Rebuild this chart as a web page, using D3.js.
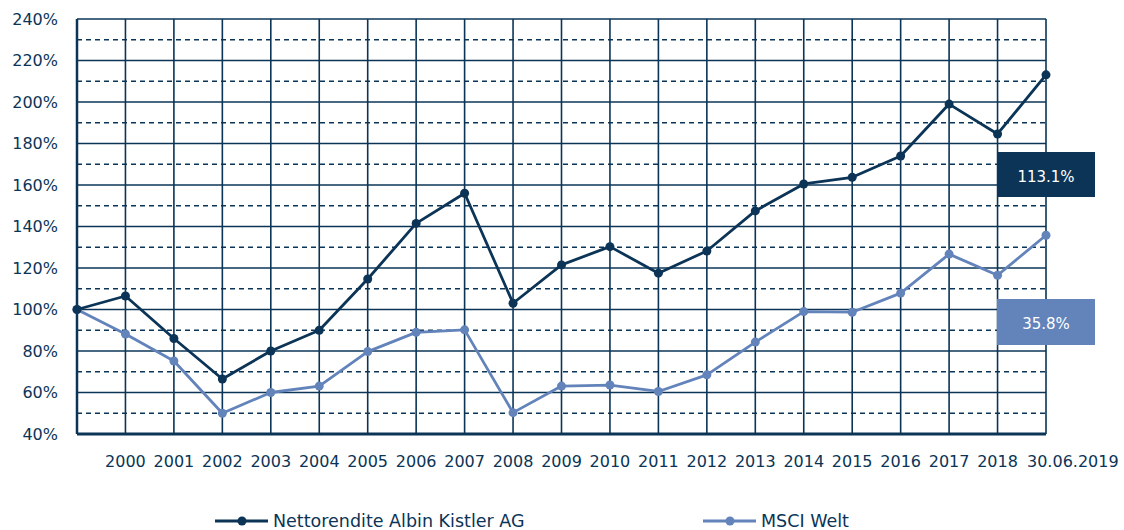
<!DOCTYPE html>
<html>
<head>
<meta charset="utf-8">
<script src="https://cdn.jsdelivr.net/npm/d3@7"></script>
<style>
  body { margin: 0; background: #fff; }
  svg { display: block; font-family: "DejaVu Sans", sans-serif; }
</style>
</head>
<body>
<svg id="chart" width="1124" height="530"></svg>
<script>
// categories along the x axis (first point is the 100% base, unlabelled)
const periods = ["", "2000", "2001", "2002", "2003", "2004", "2005", "2006", "2007", "2008", "2009",
  "2010", "2011", "2012", "2013", "2014", "2015", "2016", "2017", "2018", "30.06.2019"];

// indexed performance, percent
const kistler = [100, 106.5, 86, 66.5, 80, 90, 114.7, 141.5, 156, 103, 121.5,
  130.3, 117.5, 128.2, 147.5, 160.5, 163.7, 174, 199, 184.6, 213.1];
const msci = [100, 88.2, 75.2, 50, 60, 63.1, 79.7, 89, 90.2, 50.3, 63.1,
  63.6, 60.5, 68.5, 84.3, 99, 98.7, 107.9, 126.7, 116.5, 135.8];

const yTicks = [40, 60, 80, 100, 120, 140, 160, 180, 200, 220, 240];
const yMinor = [50, 70, 90, 110, 130, 150, 170, 190, 210, 230];

const series = [
  { name: "Nettorendite Albin Kistler AG", values: kistler, color: "#0b3456", label: "113.1%" },
  { name: "MSCI Welt", values: msci, color: "#6383bb", label: "35.8%" }
];

const navy = "#0b3456";
const svg = d3.select("#chart");
const plotL = 77, plotR = 1046, plotT = 19, plotB = 434;

const x = d3.scalePoint().domain(d3.range(periods.length)).range([plotL, plotR]);
const y = d3.scaleLinear().domain([40, 240]).range([plotB, plotT]);

const grid = svg.append("g");

// horizontal dashed lines at the odd tens
grid.selectAll("line.minor").data(yMinor).join("line")
  .attr("class", "minor")
  .attr("x1", plotL).attr("x2", plotR)
  .attr("y1", d => y(d)).attr("y2", d => y(d))
  .attr("stroke", navy).attr("stroke-width", 1.7)
  .attr("stroke-dasharray", "5,4");

// solid horizontal lines
grid.selectAll("line.major").data(yTicks).join("line")
  .attr("class", "major")
  .attr("x1", plotL).attr("x2", plotR)
  .attr("y1", d => y(d)).attr("y2", d => y(d))
  .attr("stroke", navy).attr("stroke-width", d => d === 40 ? 3 : 1.6);

// vertical lines
grid.selectAll("line.vert").data(d3.range(periods.length)).join("line")
  .attr("class", "vert")
  .attr("x1", d => x(d)).attr("x2", d => x(d))
  .attr("y1", plotT).attr("y2", plotB)
  .attr("stroke", navy).attr("stroke-width", d => d === 0 ? 2.5 : 1.6);

// y labels
svg.append("g").selectAll("text").data(yTicks).join("text")
  .attr("x", 58).attr("y", d => y(d))
  .attr("dy", "0.35em")
  .attr("text-anchor", "end")
  .attr("fill", navy).attr("font-size", 16)
  .text(d => d + "%");

// x labels
svg.append("g").selectAll("text").data(periods).join("text")
  .attr("x", (d, i) => i === periods.length - 1 ? x(i) - 19 : x(i))
  .attr("y", 467)
  .attr("text-anchor", (d, i) => i === periods.length - 1 ? "start" : "middle")
  .attr("fill", navy).attr("font-size", 16)
  .text(d => d);

const line = d3.line().x((d, i) => x(i)).y(d => y(d));

// draw lighter series first so the dark one sits on top
[...series].reverse().forEach(s => {
  svg.append("path").datum(s.values)
    .attr("d", line).attr("fill", "none")
    .attr("stroke", s.color).attr("stroke-width", 2.8)
    .attr("stroke-linejoin", "round");
  svg.append("g").selectAll("circle").data(s.values).join("circle")
    .attr("cx", (d, i) => x(i)).attr("cy", d => y(d)).attr("r", 4.5)
    .attr("fill", s.color);
});

// end value boxes
const boxes = [
  { s: series[0], y0: 152, h: 45 },
  { s: series[1], y0: 299, h: 46 }
];
boxes.forEach(b => {
  svg.append("rect")
    .attr("x", 997).attr("y", b.y0).attr("width", 98).attr("height", b.h)
    .attr("fill", b.s.color);
  svg.append("text")
    .attr("x", 1046).attr("y", b.y0 + b.h / 2 + 7)
    .attr("text-anchor", "middle")
    .attr("fill", "#fff").attr("font-size", 15)
    .text(b.s.label);
});

// legend
const legendX = [215, 703];
const lg = svg.append("g").selectAll("g").data(series).join("g")
  .attr("transform", (d, i) => `translate(${legendX[i]},521)`);
lg.append("line").attr("x1", 0).attr("x2", 53)
  .attr("stroke", d => d.color).attr("stroke-width", 3);
lg.append("circle").attr("cx", 27).attr("r", 4.5).attr("fill", d => d.color);
lg.append("text").attr("x", 58).attr("dy", "0.35em")
  .attr("fill", navy).attr("font-size", 17.5)
  .text(d => d.name);
</script>
</body>
</html>
